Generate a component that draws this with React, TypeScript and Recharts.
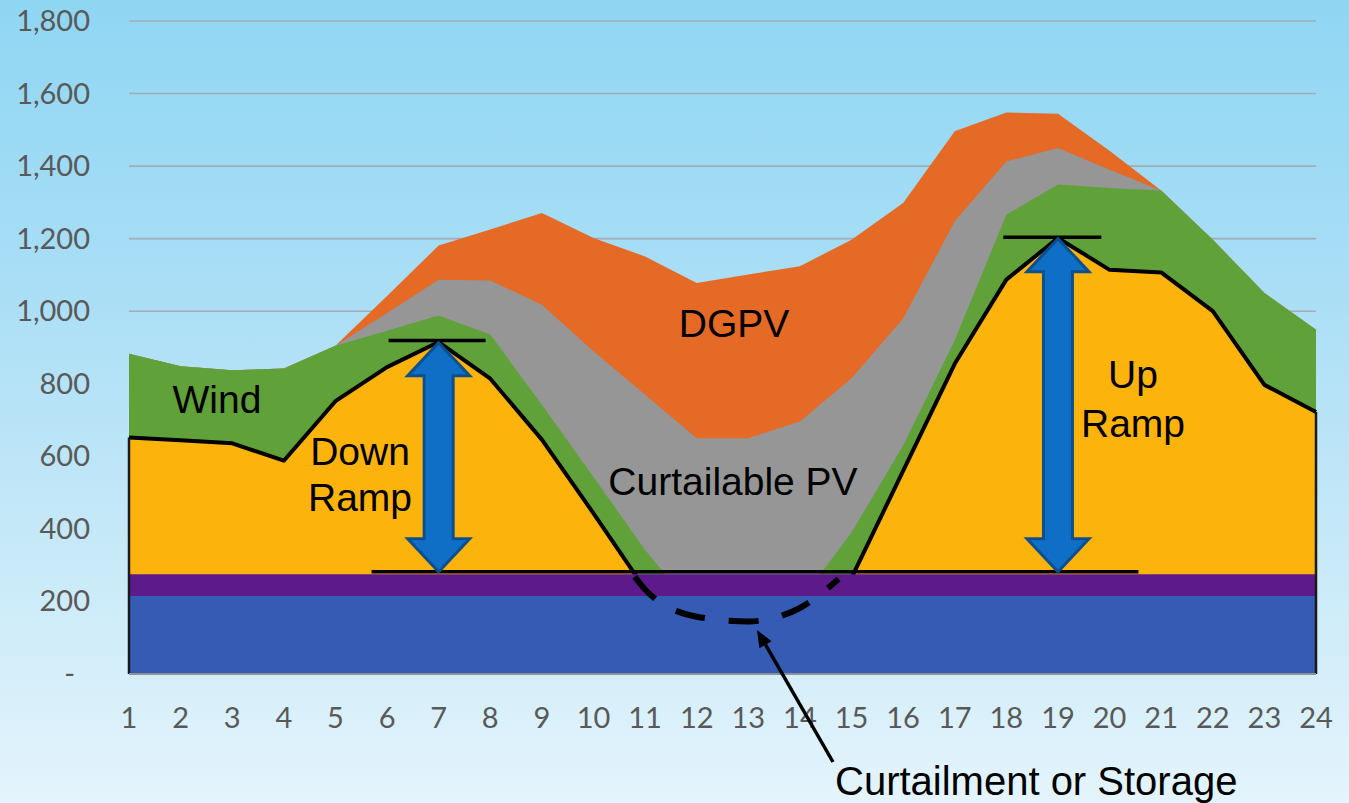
import React from 'react';
import {
    ComposedChart, Area, Line, XAxis, YAxis, CartesianGrid, ReferenceLine
} from 'recharts';

// hour of day
const HOURS = [1, 2, 3, 4, 5, 6, 7, 8, 9, 10, 11, 12, 13, 14, 15, 16, 17, 18, 19, 20, 21, 22, 23, 24];

// top edge of every layer (MW), drawn back to front
const DGPV_TOP = [883, 848, 837, 842, 905, 1042, 1181, 1225, 1271, 1202, 1151, 1078, 1101, 1124, 1197, 1298, 1496, 1548, 1544, 1442, 1333, 1197, 1050, 949];
const PV_TOP = [883, 848, 837, 842, 905, 995, 1087, 1085, 1018, 890, 770, 650, 650, 696, 815, 980, 1248, 1413, 1450, 1390, 1333, 1197, 1050, 949];
const WIND_TOP = [883, 848, 837, 842, 905, 946, 988, 936, 742, 543, 342, 170, 150, 200, 390, 630, 920, 1266, 1349, 1340, 1333, 1197, 1050, 949];
const NET_LOAD = [652, 644, 636, 588, 752, 846, 915, 814, 646, 443, 234, 163, 145, 185, 265, 560, 855, 1087, 1202, 1114, 1107, 1000, 797, 722];
const MUST_RUN_TOP = [275, 275, 275, 275, 275, 275, 275, 275, 275, 275, 275, 275, 275, 275, 275, 275, 275, 275, 275, 275, 275, 275, 275, 275];
const BASELOAD = [215, 215, 215, 215, 215, 215, 215, 215, 215, 215, 215, 215, 215, 215, 215, 215, 215, 215, 215, 215, 215, 215, 215, 215];

// net load below the must-run floor (dashed)
const CURTAIL_HOURS = [10.8, 11, 12, 13, 14, 14.75];
const CURTAIL_MW = [268, 233, 158, 145, 182, 262];

const Y_TICKS = [0, 200, 400, 600, 800, 1000, 1200, 1400, 1600, 1800];

// ramp markers
const FLOOR_MW = 282;
const FLOOR_SPAN = [5.7, 20.56];
const DOWN_RAMP = { hour: 7, top: 919, span: [6.03, 7.91] };
const UP_RAMP = { hour: 19, top: 1204, span: [17.94, 19.84] };

const COLORS = {
    dgpv: '#e46a26',
    pv: '#969696',
    wind: '#60a139',
    net: '#fcb40c',
    mustRun: '#5c1a8b',
    base: '#365bb4',
    arrow: '#0f6fc6',
    arrowEdge: '#0c4f8e',
    tick: '#595959',
};

const rows = HOURS.map((hour, i) => ({
    hour,
    dgpv: DGPV_TOP[i],
    pv: PV_TOP[i],
    wind: WIND_TOP[i],
    net: NET_LOAD[i],
    mustRun: MUST_RUN_TOP[i],
    base: BASELOAD[i],
}));

const curtailRows = CURTAIL_HOURS.map((hour, i) => ({ hour, mw: CURTAIL_MW[i] }));

const LABEL_FONT = '"Liberation Sans", Arial, sans-serif';
const TICK_FONT = 'Lato, "Open Sans", sans-serif';

const YTick = ({ x, y, payload }: any) => (
    <text
        x={payload.value === 0 ? x - 15 : x}
        y={y}
        dy={10}
        textAnchor="end"
        fill={COLORS.tick}
        fontSize={29}
        fontFamily={TICK_FONT}
    >
        {payload.value === 0 ? '-' : payload.value.toLocaleString('en-US')}
    </text>
);

// double headed block arrow between the two ends of a segment
const RampArrow = (props: any) => {
    const { x1, y1, y2 } = props;
    const top = Math.min(y1, y2);
    const bot = Math.max(y1, y2);
    const hw = 31, sw = 14.5, hh = 33;
    const pts = [
        [x1, top], [x1 + hw, top + hh], [x1 + sw, top + hh], [x1 + sw, bot - hh], [x1 + hw, bot - hh],
        [x1, bot], [x1 - hw, bot - hh], [x1 - sw, bot - hh], [x1 - sw, top + hh], [x1 - hw, top + hh],
    ].map(p => p.join(',')).join(' ');
    return <polygon points={pts} fill={COLORS.arrow} stroke={COLORS.arrowEdge} strokeWidth={3} />;
};

// pointer arrow for the bottom caption
const tail = { x: 833, y: 762 };
const tip = { x: 757, y: 630 };
const Pointer = () => {
    const dx = tip.x - tail.x, dy = tip.y - tail.y;
    const len = Math.hypot(dx, dy);
    const ux = dx / len, uy = dy / len;
    const bx = tip.x - ux * 17, by = tip.y - uy * 17;
    const head = [
        [tip.x, tip.y],
        [bx - uy * 7, by + ux * 7],
        [bx + uy * 7, by - ux * 7],
    ].map(p => p.join(',')).join(' ');
    return (
        <g>
            <line x1={tail.x} y1={tail.y} x2={bx} y2={by} stroke="#000" strokeWidth={3.5} />
            <polygon points={head} fill="#000" />
        </g>
    );
};

export default function App() {
    const label = { fontFamily: LABEL_FONT, fontSize: 39, fill: '#000' };
    return (
        <div
            style={{
                position: 'fixed', left: 0, top: 0, width: 1349, height: 803, overflow: 'hidden',
                background: 'linear-gradient(180deg, #8fd6f3 0%, #a9def6 35%, #c4e8f8 65%, #e4f4fc 100%)',
            }}
        >
            <ComposedChart width={1349} height={803} data={rows} margin={{ top: 21, right: 33, bottom: 0, left: 0 }}>
                <CartesianGrid vertical={false} stroke="#a3acb4" strokeWidth={1.6} />
                <XAxis
                    type="number"
                    dataKey="hour"
                    domain={[1, 24]}
                    ticks={HOURS}
                    interval={0}
                    height={129}
                    tickSize={0}
                    tickMargin={33}
                    axisLine={{ stroke: '#8c9296', strokeWidth: 2 }}
                    tick={{ fill: COLORS.tick, fontSize: 29, fontFamily: TICK_FONT }}
                />
                <YAxis
                    type="number"
                    domain={[0, 1800]}
                    ticks={Y_TICKS}
                    interval={0}
                    width={129}
                    tickSize={0}
                    tickMargin={39}
                    axisLine={false}
                    tick={<YTick />}
                />

                <Area type="linear" dataKey="dgpv" stroke="none" fill={COLORS.dgpv} fillOpacity={1} isAnimationActive={false} dot={false} activeDot={false} />
                <Area type="linear" dataKey="pv" stroke="none" fill={COLORS.pv} fillOpacity={1} isAnimationActive={false} dot={false} activeDot={false} />
                <Area type="linear" dataKey="wind" stroke="none" fill={COLORS.wind} fillOpacity={1} isAnimationActive={false} dot={false} activeDot={false} />
                <Area type="linear" dataKey="net" stroke="#000" strokeWidth={4} strokeLinejoin="round" fill={COLORS.net} fillOpacity={1} isAnimationActive={false} dot={false} activeDot={false} />
                <Area type="linear" dataKey="mustRun" stroke="none" fill={COLORS.mustRun} fillOpacity={1} isAnimationActive={false} dot={false} activeDot={false} />
                <Area type="linear" dataKey="base" stroke="none" fill={COLORS.base} fillOpacity={1} isAnimationActive={false} dot={false} activeDot={false} />

                <Line
                    data={curtailRows}
                    dataKey="mw"
                    type="monotone"
                    stroke="#000"
                    strokeWidth={6}
                    strokeDasharray="30 24"
                    dot={false}
                    activeDot={false}
                    isAnimationActive={false}
                />

                {/* outline at both ends of the net load */}
                <ReferenceLine segment={[{ x: 1, y: 0 }, { x: 1, y: NET_LOAD[0] }]} stroke="#1a1a1a" strokeWidth={2.5} />
                <ReferenceLine segment={[{ x: 24, y: 0 }, { x: 24, y: NET_LOAD[23] }]} stroke="#1a1a1a" strokeWidth={2.5} />

                {/* ramp markers */}
                <ReferenceLine segment={[{ x: FLOOR_SPAN[0], y: FLOOR_MW }, { x: FLOOR_SPAN[1], y: FLOOR_MW }]} stroke="#000" strokeWidth={3.5} />
                <ReferenceLine segment={[{ x: DOWN_RAMP.span[0], y: DOWN_RAMP.top }, { x: DOWN_RAMP.span[1], y: DOWN_RAMP.top }]} stroke="#000" strokeWidth={3.5} />
                <ReferenceLine segment={[{ x: UP_RAMP.span[0], y: UP_RAMP.top }, { x: UP_RAMP.span[1], y: UP_RAMP.top }]} stroke="#000" strokeWidth={3.5} />
                <ReferenceLine segment={[{ x: DOWN_RAMP.hour, y: DOWN_RAMP.top - 6 }, { x: DOWN_RAMP.hour, y: FLOOR_MW }]} shape={<RampArrow />} />
                <ReferenceLine segment={[{ x: UP_RAMP.hour, y: UP_RAMP.top - 4 }, { x: UP_RAMP.hour, y: FLOOR_MW }]} shape={<RampArrow />} />
            </ComposedChart>

            <svg width={1349} height={803} style={{ position: 'absolute', left: 0, top: 0, pointerEvents: 'none' }}>
                <text x={217} y={413} textAnchor="middle" {...label}>Wind</text>
                <text x={360} y={465} textAnchor="middle" {...label}>Down</text>
                <text x={360} y={511} textAnchor="middle" {...label}>Ramp</text>
                <text x={734} y={337} textAnchor="middle" {...label}>DGPV</text>
                <text x={733} y={495} textAnchor="middle" {...label}>Curtailable PV</text>
                <text x={1133} y={388} textAnchor="middle" {...label}>Up</text>
                <text x={1133} y={437} textAnchor="middle" {...label}>Ramp</text>
                <text x={835} y={795} {...label} fontSize={40}>Curtailment or Storage</text>
                <Pointer />
            </svg>
        </div>
    );
}
